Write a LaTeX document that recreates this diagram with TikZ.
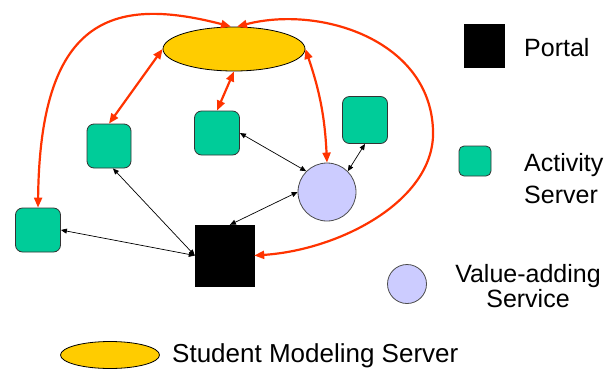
\documentclass[tikz,border=0pt]{standalone}
\usepackage{fontspec}
\setmainfont{Liberation Sans}
\usepackage{tikz}
\usetikzlibrary{arrows.meta,shapes.geometric}
\definecolor{smsyellow}{HTML}{FFCC00}
\definecolor{actgreen}{HTML}{00CC99}
\definecolor{vaslilac}{HTML}{CCCCFF}
\definecolor{linkred}{HTML}{FF3300}
\tikzset{
  smsbox/.style={ellipse,draw=black,line width=0.8pt,fill=smsyellow,inner sep=0pt},
  actbox/.style={rectangle,rounded corners=7pt,draw=black!80,line width=0.8pt,fill=actgreen,inner sep=0pt},
  vasbox/.style={circle,draw=black!70,line width=0.8pt,fill=vaslilac,inner sep=0pt},
  portalbox/.style={rectangle,fill=black,draw=black,inner sep=0pt},
  redlink/.style={linkred,line width=2.2pt,{Triangle[length=10pt,width=8pt]}-{Triangle[length=10pt,width=8pt]}},
  blacklink/.style={black,line width=0.7pt,{Triangle[length=6pt,width=5pt]}-{Triangle[length=6pt,width=5pt]}},
  legtext/.style={inner sep=0pt}
}
\newcommand{\legfont}[2]{\fontsize{#1}{#2}\selectfont}

\begin{document}
\begin{tikzpicture}[x=1pt,y=-1pt]
\useasboundingbox (0,0) rectangle (615,370);

% servers
\node[smsbox,minimum width=142pt,minimum height=44pt] (sms) at (234,49) {};
\node[actbox,minimum width=44pt,minimum height=44pt] (act1) at (109,146) {};
\node[actbox,minimum width=45pt,minimum height=44pt] (act2) at (217,133) {};
\node[actbox,minimum width=45pt,minimum height=47pt] (act3) at (365,120) {};
\node[actbox,minimum width=45pt,minimum height=44pt] (act4) at (38,230) {};
\node[vasbox,minimum size=58pt] (vas) at (327,192) {};
\node[portalbox,minimum width=59pt,minimum height=61pt] (portal) at (224.5,255.5) {};

% legend
\node[portalbox,minimum width=40pt,minimum height=43pt] (legportal) at (484,46) {};
\node[legtext,anchor=base west,font=\legfont{25}{30}] (portaltext) at (524,56) {Portal};
\node[actbox,rounded corners=5pt,minimum width=32pt,minimum height=30pt] (legact) at (475,161) {};
\node[legtext,anchor=north west,align=left,font=\legfont{25}{32}] (acttext) at (524,153) {Activity\\Server};
\node[vasbox,minimum size=39pt] (legvas) at (407,284) {};
\node[legtext,anchor=north,align=center,font=\legfont{25}{25}] (vastext) at (528,264) {Value-adding\\Service};
\node[smsbox,minimum width=99pt,minimum height=27pt] (legsms) at (110,355) {};
\node[legtext,anchor=base west,font=\legfont{26}{30}] (smstext) at (172,362) {Student Modeling Server};

% student model links
\draw[redlink] (sms.west) -- (act1.north);
\draw[redlink] (sms.south) -- (act2.north);
\draw[redlink] (sms.east) to[bend left=8] (vas.north);
\draw[redlink] (act4.north) .. controls (40,20) and (110,-5) .. ([xshift=-3pt]sms.north);
\draw[redlink] ([xshift=3pt]sms.north) .. controls (320,5) and (430,40) .. (433,130)
  .. controls (436,200) and (340,250) .. (portal.east);

% portal links
\draw[blacklink] (act1.-80) -- (portal.west);
\draw[blacklink] (act4.east) -- (portal.west);
\draw[blacklink] (portal.80) -- (vas.west);
\draw[blacklink] (act2.east) -- (vas.135);
\draw[blacklink] (act3.south) -- (vas.45);

\end{tikzpicture}
\end{document}
